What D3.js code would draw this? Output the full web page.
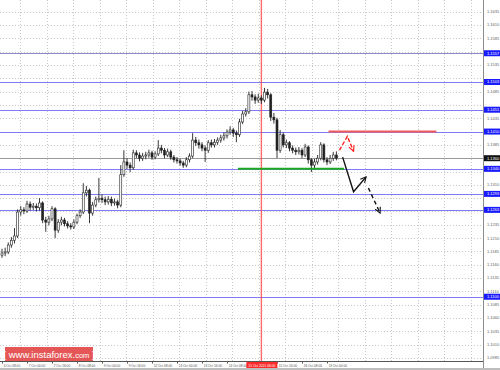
<!DOCTYPE html>
<html>
<head>
<meta charset="utf-8">
<script src="https://cdn.jsdelivr.net/npm/d3@7"></script>
<style>
	html, body { margin: 0; padding: 0; background: #fff; }
	svg { display: block; }
</style>
</head>
<body>
<div id="chart"></div>
<script>

// EUR/USD, 2-hour bars from 6 Oct 08:00
var opens = [1.1178, 1.1182, 1.1184, 1.1197, 1.1206, 1.1214, 1.1259, 1.1263, 1.1261, 1.1274, 1.1268, 1.1270, 1.1267, 1.1276, 1.1244, 1.1240, 1.1246, 1.1265, 1.1225, 1.1240, 1.1244, 1.1237, 1.1233, 1.1231, 1.1240, 1.1252, 1.1259, 1.1295, 1.1300, 1.1257, 1.1272, 1.1282, 1.1285, 1.1282, 1.1278, 1.1283, 1.1276, 1.1278, 1.1272, 1.1329, 1.1353, 1.1347, 1.1342, 1.1370, 1.1366, 1.1360, 1.1364, 1.1366, 1.1370, 1.1362, 1.1368, 1.1379, 1.1375, 1.1366, 1.1372, 1.1362, 1.1357, 1.1355, 1.1351, 1.1347, 1.1357, 1.1364, 1.1394, 1.1389, 1.1385, 1.1379, 1.1375, 1.1389, 1.1385, 1.1390, 1.1394, 1.1398, 1.1402, 1.1409, 1.1413, 1.1407, 1.1404, 1.1428, 1.1443, 1.1447, 1.1479, 1.1475, 1.1469, 1.1473, 1.1469, 1.1484, 1.1479, 1.1437, 1.1432, 1.1375, 1.1404, 1.1385, 1.1389, 1.1379, 1.1375, 1.1372, 1.1375, 1.1366, 1.1381, 1.1357, 1.1347, 1.1353, 1.1360, 1.1385, 1.1357, 1.1353, 1.1360, 1.1366];
var highs = [1.1190, 1.1192, 1.1202, 1.1212, 1.1229, 1.1264, 1.1270, 1.1268, 1.1280, 1.1279, 1.1276, 1.1275, 1.1285, 1.1279, 1.1250, 1.1252, 1.1270, 1.1268, 1.1246, 1.1250, 1.1248, 1.1242, 1.1238, 1.1245, 1.1256, 1.1264, 1.1313, 1.1308, 1.1303, 1.1278, 1.1288, 1.1323, 1.1292, 1.1288, 1.1289, 1.1288, 1.1284, 1.1282, 1.1347, 1.1375, 1.1360, 1.1352, 1.1376, 1.1375, 1.1371, 1.1370, 1.1372, 1.1376, 1.1374, 1.1373, 1.1394, 1.1385, 1.1379, 1.1378, 1.1376, 1.1366, 1.1362, 1.1359, 1.1355, 1.1362, 1.1369, 1.1407, 1.1400, 1.1395, 1.1390, 1.1384, 1.1394, 1.1395, 1.1396, 1.1399, 1.1404, 1.1408, 1.1414, 1.1420, 1.1417, 1.1412, 1.1434, 1.1449, 1.1454, 1.1485, 1.1486, 1.1480, 1.1481, 1.1478, 1.1492, 1.1490, 1.1482, 1.1445, 1.1436, 1.1413, 1.1408, 1.1395, 1.1392, 1.1384, 1.1380, 1.1381, 1.1379, 1.1387, 1.1384, 1.1360, 1.1359, 1.1366, 1.1390, 1.1388, 1.1362, 1.1366, 1.1372, 1.1373];
var lows = [1.1173, 1.1176, 1.1180, 1.1192, 1.1200, 1.1210, 1.1252, 1.1255, 1.1257, 1.1262, 1.1263, 1.1260, 1.1262, 1.1238, 1.1222, 1.1234, 1.1242, 1.1210, 1.1220, 1.1234, 1.1232, 1.1228, 1.1226, 1.1227, 1.1236, 1.1248, 1.1255, 1.1288, 1.1238, 1.1252, 1.1268, 1.1277, 1.1276, 1.1272, 1.1273, 1.1270, 1.1271, 1.1266, 1.1268, 1.1325, 1.1340, 1.1334, 1.1338, 1.1360, 1.1354, 1.1355, 1.1358, 1.1361, 1.1357, 1.1358, 1.1364, 1.1369, 1.1360, 1.1362, 1.1357, 1.1352, 1.1350, 1.1346, 1.1342, 1.1343, 1.1352, 1.1360, 1.1383, 1.1378, 1.1373, 1.1353, 1.1370, 1.1380, 1.1380, 1.1385, 1.1389, 1.1393, 1.1397, 1.1404, 1.1400, 1.1390, 1.1400, 1.1424, 1.1438, 1.1443, 1.1468, 1.1462, 1.1464, 1.1462, 1.1465, 1.1472, 1.1430, 1.1425, 1.1360, 1.1370, 1.1380, 1.1379, 1.1373, 1.1369, 1.1366, 1.1367, 1.1360, 1.1362, 1.1350, 1.1334, 1.1341, 1.1348, 1.1356, 1.1352, 1.1347, 1.1349, 1.1355, 1.1356];
var closes = [1.1182, 1.1184, 1.1197, 1.1206, 1.1214, 1.1259, 1.1263, 1.1261, 1.1274, 1.1268, 1.1270, 1.1267, 1.1276, 1.1244, 1.1240, 1.1246, 1.1265, 1.1225, 1.1240, 1.1244, 1.1237, 1.1233, 1.1231, 1.1240, 1.1252, 1.1259, 1.1295, 1.1300, 1.1257, 1.1272, 1.1282, 1.1285, 1.1282, 1.1278, 1.1283, 1.1276, 1.1278, 1.1272, 1.1329, 1.1353, 1.1347, 1.1342, 1.1370, 1.1366, 1.1360, 1.1364, 1.1366, 1.1370, 1.1362, 1.1368, 1.1379, 1.1375, 1.1366, 1.1372, 1.1362, 1.1357, 1.1355, 1.1351, 1.1347, 1.1357, 1.1364, 1.1394, 1.1389, 1.1385, 1.1379, 1.1375, 1.1389, 1.1385, 1.1390, 1.1394, 1.1398, 1.1402, 1.1409, 1.1413, 1.1407, 1.1404, 1.1428, 1.1443, 1.1447, 1.1479, 1.1475, 1.1469, 1.1473, 1.1469, 1.1484, 1.1479, 1.1437, 1.1432, 1.1375, 1.1404, 1.1385, 1.1389, 1.1379, 1.1375, 1.1372, 1.1375, 1.1366, 1.1381, 1.1357, 1.1347, 1.1353, 1.1360, 1.1385, 1.1357, 1.1353, 1.1360, 1.1366, 1.1360];

var barHours = 2;
var currentPrice = 1.1360;

var priceTicks = [1.0985, 1.1010, 1.1035, 1.1060, 1.1085, 1.1110, 1.1135, 1.1160, 1.1185, 1.1210, 1.1235, 1.1260, 1.1285, 1.1310, 1.1335, 1.1360, 1.1385, 1.1410, 1.1435, 1.1460, 1.1485, 1.1510, 1.1535, 1.1560, 1.1585, 1.1610, 1.1635, 1.1660];

// the 15 Oct 00:00 label sits under the cross-line tag, so it is not shown
var timeLabels = ["6 Oct 08:00", "7 Oct 00:00", "7 Oct 16:00", "8 Oct 08:00", "9 Oct 00:00", "9 Oct 16:00", "12 Oct 08:00", "13 Oct 00:00", "13 Oct 16:00", "14 Oct 08:00", "15 Oct 16:00", "16 Oct 08:00", "19 Oct 00:00"];
var timeLabelHours = [0, 16, 32, 48, 64, 80, 96, 112, 128, 144, 176, 192, 208];

var levels = [1.1557, 1.1503, 1.1451, 1.1410, 1.1340, 1.1293, 1.1263, 1.1100];

var crossHour = 166;
var crossLabel = "15 Oct 2015 06:00";

// drawn analysis: [hour, price]
var resistance = { price: 1.1410, from: 209, to: 278 };
var support = { price: 1.1340, from: 151, to: 219 };
var redArrow = [[216, 1.1375], [221, 1.1401], [225, 1.1373]];
var blackArrow = [[218, 1.1362], [225, 1.1297], [233, 1.1325]];
var blackDashArrow = [[234.5, 1.1304], [242, 1.1257]];


var W = 500, H = 370;
var axisX = 483, axisY = 361;

var x = d3.scaleLinear().domain([0, 308]).range([2, 2 + 308 * 1.5625]);
var y = d3.scaleLinear().domain([1.0985, 1.1660]).range([358, 358 - 27 * 13.32]);

var svg = d3.select('#chart')
	.append('svg')
	.attr('width', W)
	.attr('height', H)
	.attr('font-family', 'Liberation Sans, Arial, sans-serif');

svg.append('rect').attr('width', W).attr('height', H).attr('fill', '#fff');

var defs = svg.append('defs');

defs.append('clipPath').attr('id', 'plot')
	.append('rect').attr('x', 0).attr('y', 0).attr('width', axisX).attr('height', axisY);

function addHead(id, color) {
	defs.append('marker')
		.attr('id', id)
		.attr('viewBox', '0 0 10 10')
		.attr('refX', 9).attr('refY', 5)
		.attr('markerWidth', 7).attr('markerHeight', 7)
		.attr('markerUnits', 'userSpaceOnUse')
		.attr('orient', 'auto')
	  .append('path')
		.attr('d', 'M1,1 L9,5 L1,9')
		.attr('fill', 'none')
		.attr('stroke', color)
		.attr('stroke-width', 1.6);
}
addHead('headRed', '#ff2020');
addHead('headBlack', '#111');

var plot = svg.append('g').attr('clip-path', 'url(#plot)');

//* GRID
plot.selectAll('.hgrid')
	.data(priceTicks)
	.enter().append('line')
	.attr('x1', 0).attr('x2', axisX)
	.attr('y1', function (d) { return Math.round(y(d)) + 0.5; })
	.attr('y2', function (d) { return Math.round(y(d)) + 0.5; })
	.attr('stroke', '#c8c8c8')
	.attr('stroke-dasharray', '1,2');

plot.selectAll('.vgrid')
	.data(d3.range(20, axisX, 26.5))
	.enter().append('line')
	.attr('x1', function (d) { return Math.round(d) + 0.5; })
	.attr('x2', function (d) { return Math.round(d) + 0.5; })
	.attr('y1', 0).attr('y2', axisY)
	.attr('stroke', '#c8c8c8')
	.attr('stroke-dasharray', '1,2');

//* LEVELS
plot.selectAll('.level')
	.data(levels)
	.enter().append('line')
	.attr('x1', 0).attr('x2', axisX)
	.attr('y1', function (d) { return Math.round(y(d)) + 0.5; })
	.attr('y2', function (d) { return Math.round(y(d)) + 0.5; })
	.attr('stroke', function (d, i) { return i === 0 ? '#8a8ac8' : '#7c7cf4'; })
	.attr('stroke-width', 1);

// current price line
plot.append('line')
	.attr('x1', 0).attr('x2', axisX)
	.attr('y1', Math.round(y(currentPrice)) + 0.5)
	.attr('y2', Math.round(y(currentPrice)) + 0.5)
	.attr('stroke', '#9a9a9a');

// vertical cross line
plot.append('line')
	.attr('x1', x(crossHour))
	.attr('x2', x(crossHour))
	.attr('y1', 0).attr('y2', axisY)
	.attr('stroke', '#ff3a3a')
	.attr('stroke-opacity', 0.75)
	.attr('stroke-width', 1.4);

//* CANDLES
var bars = closes.map(function (c, i) {
	return { h: i * barHours, o: opens[i], hi: highs[i], lo: lows[i], c: c };
});

var candle = plot.selectAll('.candle')
	.data(bars)
	.enter().append('g');

candle.append('line')
	.attr('x1', function (d) { return x(d.h); })
	.attr('x2', function (d) { return x(d.h); })
	.attr('y1', function (d) { return y(d.hi); })
	.attr('y2', function (d) { return y(d.lo); })
	.attr('stroke', '#222')
	.attr('stroke-width', 0.9);

candle.append('rect')
	.attr('x', function (d) { return x(d.h) - 1; })
	.attr('width', 2)
	.attr('y', function (d) { return y(Math.max(d.o, d.c)); })
	.attr('height', function (d) { return Math.max(0.8, Math.abs(y(d.o) - y(d.c))); })
	.attr('fill', function (d) { return d.c >= d.o ? '#fff' : '#222'; })
	.attr('stroke', '#222')
	.attr('stroke-width', 0.6);

//* ANALYSIS LINES
plot.append('line')
	.attr('x1', x(resistance.from)).attr('x2', x(resistance.to))
	.attr('y1', y(resistance.price)).attr('y2', y(resistance.price))
	.attr('stroke', '#f25a5a')
	.attr('stroke-width', 2);

plot.append('line')
	.attr('x1', x(support.from)).attr('x2', x(support.to))
	.attr('y1', y(support.price)).attr('y2', y(support.price))
	.attr('stroke', '#1fa81f')
	.attr('stroke-width', 2);

var path = d3.line()
	.x(function (d) { return x(d[0]); })
	.y(function (d) { return y(d[1]); });

plot.append('path')
	.attr('d', path(redArrow))
	.attr('fill', 'none')
	.attr('stroke', '#ff2020')
	.attr('stroke-width', 1.4)
	.attr('stroke-dasharray', '4,2')
	.attr('marker-end', 'url(#headRed)');

plot.append('path')
	.attr('d', path(blackArrow))
	.attr('fill', 'none')
	.attr('stroke', '#111')
	.attr('stroke-width', 1.4)
	.attr('marker-end', 'url(#headBlack)');

plot.append('path')
	.attr('d', path(blackDashArrow))
	.attr('fill', 'none')
	.attr('stroke', '#111')
	.attr('stroke-width', 1.4)
	.attr('stroke-dasharray', '4,3')
	.attr('marker-end', 'url(#headBlack)');

//* PRICE AXIS
svg.append('line')
	.attr('x1', axisX + 0.5).attr('x2', axisX + 0.5)
	.attr('y1', 0).attr('y2', H)
	.attr('stroke', '#8c8c8c');

// tags for the levels and the current price
var tags = levels.map(function (d) { return { v: d, c: '#1a1aff' }; })
	.concat([{ v: currentPrice, c: '#111' }]);

// grid prices hidden behind a tag or the top edge are left out
var shownTicks = priceTicks.filter(function (p) {
	if (y(p) < 3) return false;
	return tags.every(function (t) { return Math.abs(y(t.v) - y(p)) > 5; });
});

svg.selectAll('.ptick')
	.data(shownTicks)
	.enter().append('text')
	.attr('x', axisX + 4)
	.attr('y', function (d) { return y(d) + 1.4; })
	.attr('font-size', 4)
	.attr('fill', '#606060')
	.text(function (d) { return d.toFixed(4); });

var tag = svg.selectAll('.ltag')
	.data(tags)
	.enter().append('g')
	.attr('transform', function (d) { return 'translate(' + (axisX + 1) + ',' + y(d.v) + ')'; });

tag.append('rect')
	.attr('x', 0).attr('y', -3)
	.attr('width', 16).attr('height', 6)
	.attr('fill', function (d) { return d.c; });

tag.append('text')
	.attr('x', 3).attr('y', 1.4)
	.attr('font-size', 4)
	.attr('fill', '#fff')
	.text(function (d) { return d.v.toFixed(4); });

//* TIME AXIS
svg.append('line')
	.attr('x1', 0).attr('x2', axisX)
	.attr('y1', axisY + 0.5).attr('y2', axisY + 0.5)
	.attr('stroke', '#555');

var tt = svg.selectAll('.ttick')
	.data(timeLabels)
	.enter().append('g')
	.attr('transform', function (d, i) { return 'translate(' + (Math.round(x(timeLabelHours[i])) + 0.5) + ',' + axisY + ')'; });

tt.append('line')
	.attr('y1', 0).attr('y2', 2.5)
	.attr('stroke', '#555');

tt.append('text')
	.attr('x', 1.2).attr('y', 5.8)
	.attr('font-size', 3.2)
	.attr('fill', '#505050')
	.text(function (d) { return d; });

var cross = svg.append('g')
	.attr('transform', 'translate(' + x(crossHour) + ',' + axisY + ')');

cross.append('rect')
	.attr('x', -15).attr('y', 1)
	.attr('width', 31).attr('height', 6.5)
	.attr('fill', '#ff2a2a');

cross.append('text')
	.attr('x', 0.5).attr('y', 5.6)
	.attr('font-size', 3.3)
	.attr('fill', '#fff')
	.style('text-anchor', 'middle')
	.text(crossLabel);

svg.append('rect')
	.attr('x', 0).attr('y', H - 2)
	.attr('width', W).attr('height', 2)
	.attr('fill', '#bdbdbd');

//* LOGO
var logo = svg.append('g').attr('transform', 'translate(5,347)');

logo.append('rect')
	.attr('width', 88).attr('height', 14)
	.attr('fill', '#e03a3a')
	.attr('opacity', 0.85);

var lt = logo.append('text')
	.attr('x', 44).attr('y', 10.5)
	.attr('font-size', 9.5)
	.attr('fill', '#fff')
	.style('text-anchor', 'middle');

lt.append('tspan').text('[ www.instaforex.');
lt.append('tspan').attr('font-size', 7.5).text('com');
lt.append('tspan').text(' ]');

</script>
</body>
</html>
